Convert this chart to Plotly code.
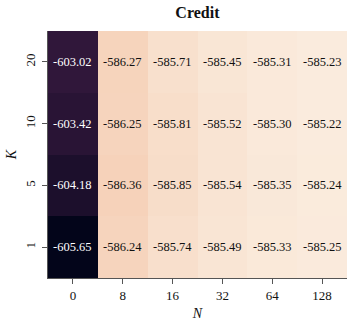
import plotly.graph_objects as go

# Data
n_labels = ["0", "8", "16", "32", "64", "128"]
k_labels = ["1", "5", "10", "20"]  # bottom to top
vals_k1 = [-605.65, -586.24, -585.74, -585.49, -585.33, -585.25]
vals_k5 = [-604.18, -586.36, -585.85, -585.54, -585.35, -585.24]
vals_k10 = [-603.42, -586.25, -585.81, -585.52, -585.30, -585.22]
vals_k20 = [-603.02, -586.27, -585.71, -585.45, -585.31, -585.23]
z = [vals_k1, vals_k5, vals_k10, vals_k20]

zmin = min(min(r) for r in z)
zmax = max(max(r) for r in z)

rocket = [
    [0.0, "#03051A"],
    [0.143, "#35193E"],
    [0.286, "#701F57"],
    [0.429, "#AD1759"],
    [0.571, "#E13342"],
    [0.714, "#F37651"],
    [0.857, "#F6B48F"],
    [0.95, "#F6D4BD"],
    [0.976, "#F8E0CD"],
    [1.0, "#FAEBDD"],
]

FONT = "Liberation Serif"
xi_idx = list(range(len(n_labels)))
yi_idx = list(range(len(k_labels)))

fig = go.Figure(go.Heatmap(
    x=xi_idx, y=yi_idx, z=z,
    colorscale=rocket, zmin=zmin, zmax=zmax,
    showscale=False, xgap=0, ygap=0,
))

for yi, row in zip(yi_idx, z):
    for xi, v in zip(xi_idx, row):
        frac = (v - zmin) / (zmax - zmin)
        fig.add_annotation(
            x=xi, y=yi, text=f"{v:.2f}", showarrow=False,
            font=dict(family=FONT, size=12.5, color="white" if frac < 0.5 else "#111"),
        )

fig.update_layout(
    width=347, height=326,
    margin=dict(l=48, r=0, t=31, b=48, autoexpand=False),
    paper_bgcolor="white", plot_bgcolor="white",
    title=dict(text="<b>Credit</b>", x=0.569, xanchor="center", y=0.963, yanchor="middle",
               font=dict(family=FONT, size=16, color="#111")),
    font=dict(family=FONT, color="#111"),
)
fig.update_xaxes(
    range=[-0.5, len(n_labels) - 0.5],
    tickmode="array", tickvals=xi_idx, ticktext=n_labels,
    showline=True, linecolor="#555", linewidth=1,
    ticks="outside", ticklen=5, tickcolor="#555", showgrid=False, zeroline=False,
    automargin=False,
    tickfont=dict(family=FONT, size=13, color="#111"),
    title=dict(text="<i>N</i>", font=dict(family=FONT, size=14, color="#111"), standoff=6),
)
fig.update_yaxes(
    range=[-0.5, len(k_labels) - 0.5],
    tickmode="array", tickvals=yi_idx, ticktext=k_labels,
    showline=True, linecolor="#555", linewidth=1,
    ticks="outside", ticklen=5, tickcolor="#555", showgrid=False, zeroline=False,
    automargin=False,
    tickangle=-90, ticklabelstandoff=2,
    tickfont=dict(family=FONT, size=13, color="#111"),
    title=dict(text="<i>K</i>", font=dict(family=FONT, size=14, color="#111"), standoff=2),
)

fig.write_html(
    "out.html",
    config={"displayModeBar": False},
    post_script="document.body.style.margin='0';document.body.style.overflow='hidden';",
)
